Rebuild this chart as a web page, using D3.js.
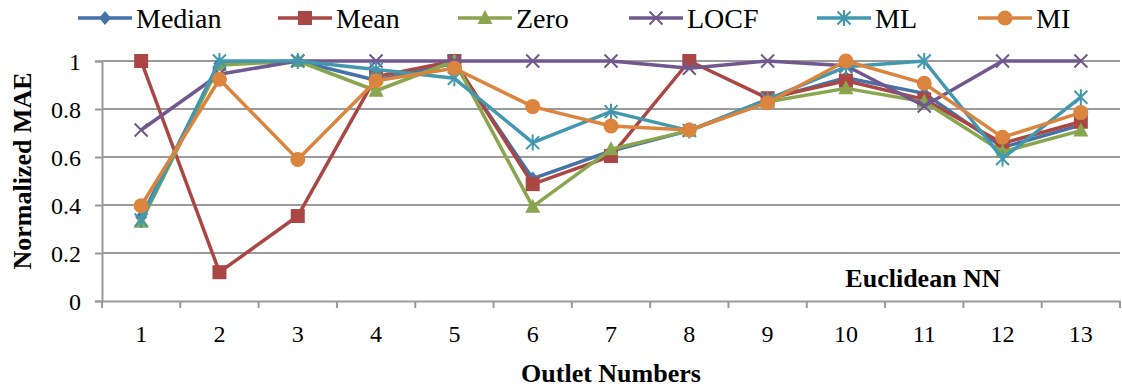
<!DOCTYPE html>
<html><head><meta charset="utf-8">
<script src="https://cdn.jsdelivr.net/npm/d3@7"></script>
</head><body style="margin:0;background:#fff">
<script>
const outlets = ["1","2","3","4","5","6","7","8","9","10","11","12","13"];
const seriesNames = ["Median","Mean","Zero","LOCF","ML","MI"];
const median = [0.35,0.99,1.0,0.92,0.99,0.51,0.625,0.71,0.84,0.93,0.865,0.64,0.733];
const mean   = [1.0,0.12,0.354,0.935,1.0,0.487,0.604,1.0,0.845,0.918,0.84,0.657,0.747];
const zero   = [0.33,0.983,1.0,0.876,1.0,0.393,0.632,0.71,0.83,0.886,0.83,0.622,0.71];
const locf   = [0.7125,0.945,1.0,1.0,1.0,1.0,1.0,0.97,1.0,0.98,0.8125,1.0,1.0];
const ml     = [0.3375,1.0,1.0,0.965,0.928,0.66,0.789,0.71,0.84,0.976,1.0,0.594,0.849];
const mi     = [0.397,0.924,0.59,0.918,0.97,0.81,0.729,0.7125,0.826,1.0,0.907,0.682,0.785];
const yTicks = [0,0.2,0.4,0.6,0.8,1];
const yTickLabels = ["0","0.2","0.4","0.6","0.8","1"];

const colors = ["#4572A7","#AA4643","#89A54E","#71588F","#4198AF","#DB843D"];
const markers = ["diamond","square","triangle","x","asterisk","circle"];
const values = [median,mean,zero,locf,ml,mi];
const FONT = '"Liberation Serif"';
const NB = "\u00A0";

const W=1122,H=391;
const svg=d3.select("body").append("svg").attr("width",W).attr("height",H).style("display","block");
const mLeft=102,mRight=1120,mTop=61,mBottom=301;
const x=d3.scaleBand().domain(outlets).range([mLeft,mRight]);
const y=d3.scaleLinear().domain([0,1]).range([mBottom,mTop]);
const grid="#9a9a9a";

svg.append("g").selectAll("line").data(yTicks.filter(d=>d>0)).join("line")
  .attr("x1",mLeft).attr("x2",mRight).attr("y1",d=>y(d)).attr("y2",d=>y(d))
  .attr("stroke",grid).attr("stroke-width",2);

const ya=svg.append("g").attr("transform",`translate(${mLeft},0)`)
  .call(d3.axisLeft(y).tickValues(yTicks).tickFormat((d,i)=>NB+yTickLabels[i]+NB).tickSize(7).tickPadding(8));
ya.attr("font-family",null).attr("font-size",null);
ya.select(".domain").attr("stroke",grid).attr("stroke-width",2);
ya.selectAll(".tick line").attr("stroke",grid).attr("stroke-width",2);
ya.selectAll(".tick text").style("font-family",FONT).style("font-size","24px").attr("dy","0.34em");

const xa=svg.append("g").attr("transform",`translate(0,${mBottom})`)
  .call(d3.axisBottom(x).tickSize(0).tickPadding(24).tickFormat(d=>NB+d+NB));
xa.attr("font-family",null).attr("font-size",null);
xa.select(".domain").attr("stroke",grid).attr("stroke-width",2);
xa.selectAll(".tick text").style("font-family",FONT).style("font-size","24px");
svg.append("g").selectAll("line").data(d3.range(outlets.length+1)).join("line")
  .attr("x1",i=>mLeft+i*x.step()).attr("x2",i=>mLeft+i*x.step())
  .attr("y1",mBottom).attr("y2",mBottom+7).attr("stroke",grid).attr("stroke-width",2);

svg.append("text").attr("x",(mLeft+mRight)/2).attr("y",382).attr("text-anchor","middle")
  .style("font-family",FONT).style("font-size","26px").style("font-weight","bold").text("Outlet Numbers");
svg.append("text").attr("transform","translate(31,171) rotate(-90)").attr("text-anchor","middle")
  .style("font-family",FONT).style("font-size","26px").style("font-weight","bold").text("Normalized MAE");
svg.append("text").attr("x",923).attr("y",287).attr("text-anchor","middle")
  .style("font-family",FONT).style("font-size","26px").style("font-weight","bold").text("Euclidean NN");

function drawMarker(g,type,color){
  if(type==="diamond") g.append("path").attr("d","M0,-7L6,0L0,7L-6,0Z").attr("fill",color);
  else if(type==="square") g.append("rect").attr("x",-7).attr("y",-7).attr("width",14).attr("height",14).attr("fill",color);
  else if(type==="triangle") g.append("path").attr("d","M0,-8L7.5,6L-7.5,6Z").attr("fill",color);
  else if(type==="circle") g.append("circle").attr("r",7.5).attr("fill",color);
  else if(type==="x") g.append("path").attr("d","M-6.5,-6.5L6.5,6.5M-6.5,6.5L6.5,-6.5").attr("stroke",color).attr("stroke-width",2).attr("fill","none");
  else if(type==="asterisk") g.append("path").attr("d","M-6.5,-6.5L6.5,6.5M-6.5,6.5L6.5,-6.5M0,-8L0,8").attr("stroke",color).attr("stroke-width",2).attr("fill","none");
}

const line=d3.line().x((d,i)=>x(outlets[i])+x.bandwidth()/2).y(d=>y(d));
values.forEach((vals,s)=>{
  const g=svg.append("g");
  g.append("path").attr("d",line(vals)).attr("fill","none").attr("stroke",colors[s]).attr("stroke-width",3.5).attr("stroke-linejoin","round");
  vals.forEach((v,i)=>{
    const mg=g.append("g").attr("transform",`translate(${x(outlets[i])+x.bandwidth()/2},${y(v)})`);
    drawMarker(mg,markers[s],colors[s]);
  });
});

const legX=[78,278,458,629,817,978];
seriesNames.forEach((n,s)=>{
  const g=svg.append("g").attr("transform",`translate(${legX[s]},18)`);
  g.append("line").attr("x1",0).attr("x2",54).attr("stroke",colors[s]).attr("stroke-width",3.5);
  const mg=g.append("g").attr("transform","translate(27,0)");
  drawMarker(mg,markers[s],colors[s]);
  svg.append("text").attr("x",legX[s]+58).attr("y",28)
    .style("font-family",FONT).style("font-size","28px").text(n+NB);
});
</script>
</body></html>
